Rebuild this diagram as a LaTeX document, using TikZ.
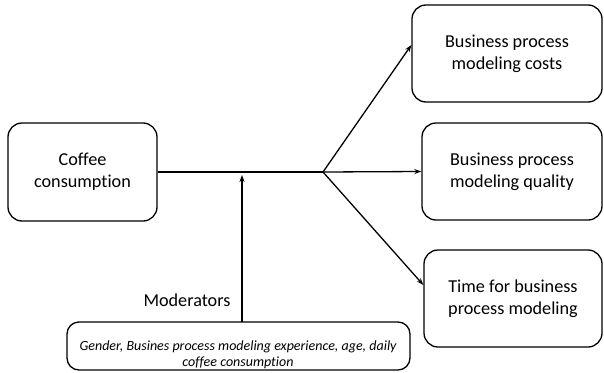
\documentclass[tikz,border=0pt]{standalone}
\usepackage{fontspec}
\setmainfont[Ligatures=NoCommon]{Carlito}
\usetikzlibrary{arrows.meta}
\begin{document}
\begin{tikzpicture}[x=1pt,y=-1pt,
  box/.style={draw,line width=1.3pt,rounded corners=14pt,align=center,inner sep=0pt},
  conn/.style={line width=1.3pt},
  arr/.style={conn,-{Stealth[length=7pt,width=5pt]}},
  lbl/.style={font=\fontsize{18.2}{22}\selectfont}]
\useasboundingbox (0,0) rectangle (604,372);
\node[box,lbl,minimum width=149pt,minimum height=98pt] (cof) at (82.5,172) {Coffee\\consumption};
\node[box,lbl,minimum width=190pt,minimum height=97pt] (cost) at (507,53.5) {Business process\\modeling costs};
\node[box,lbl,minimum width=180pt,minimum height=97pt] (qual) at (512,171.5) {Business process\\modeling quality};
\node[box,lbl,minimum width=178pt,minimum height=97pt] (time) at (513,298.5) {Time for business\\process modeling};
\draw[line width=1.3pt,rounded corners=12pt] (67,322) rectangle (410,370);
\node[align=center,inner sep=0pt,font=\fontsize{14}{16}\selectfont\itshape] (mod) at (238,355) {Gender, Busines process modeling experience, age, daily\\coffee consumption};
\coordinate (modtop) at (242,322);
\node[lbl,anchor=south] (modl) at (187,310) {Moderators};
\coordinate (j) at (323,172);
\coordinate (mt) at (242,175);
\draw[conn] (cof.east) -- (j);
\draw[arr] (j) -- (cost.west |- 0,45) ;
\draw[arr] (j) -- (qual.west);
\draw[arr] (j) -- (time.west |- 0,285);
\draw[arr] (modtop) -- (mt);
\end{tikzpicture}
\end{document}
